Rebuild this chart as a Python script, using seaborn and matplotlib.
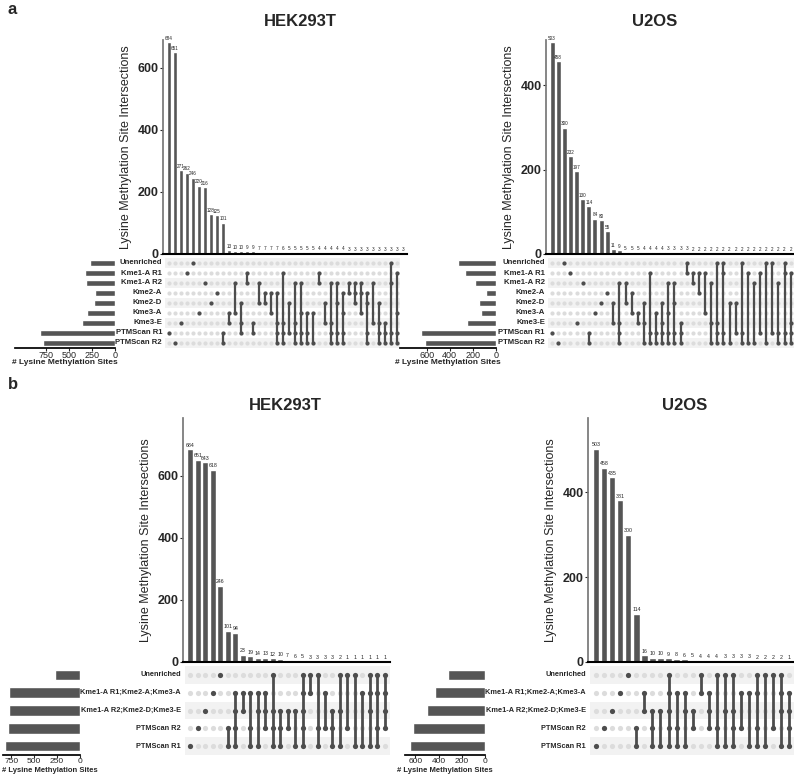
import numpy as np
import pandas as pd
import seaborn as sns
import matplotlib.pyplot as plt

sns.set_theme(style="white")
plt.rcParams['font.family'] = ['Liberation Sans', 'DejaVu Sans']

W, H = 794, 778
BAR = "#555555"
DOT_ON = "#4d4d4d"
DOT_OFF = "#dcdcdc"
STRIPE = "#f2f2f2"

# ---- panel a, HEK293T
a_sets = ["Unenriched", "Kme1-A R1", "Kme1-A R2", "Kme2-A", "Kme2-D",
          "Kme3-A", "Kme3-E", "PTMScan R1", "PTMScan R2"]
a_hek_sizes = [275, 325, 315, 215, 225, 305, 360, 820, 790]
a_hek_counts = [684, 651, 271, 262, 246, 220, 216, 128, 125, 101,
                13, 10, 10, 9, 9, 7, 7, 7, 7, 6,
                5, 5, 5, 5, 5, 4, 4, 4, 4, 4,
                3, 3, 3, 3, 3, 3, 3, 3, 3, 3]
# each entry lists the member set rows (0 = top row)
a_hek_members = ["7", "8", "6", "1", "0", "5", "2", "4", "3", "78",
                 "56", "25", "467", "12", "67", "24", "34", "35", "3678", "1678",
                 "47", "2678", "2578", "578", "58", "12", "46", "2678", "2478", "3578",
                 "23", "234", "235", "3478", "26", "4678", "678", "0278", "1578", "0578"]

# ---- panel a, U2OS
a_u2_sizes = [330, 270, 183, 87, 148, 130, 252, 650, 618]
a_u2_counts = [503, 458, 300, 232, 197, 130, 114, 84, 80, 55,
               11, 9, 5, 5, 5, 4, 4, 4, 4, 3,
               3, 3, 3, 2, 2, 2, 2, 2, 2, 2,
               2, 2, 2, 2, 2, 2, 2, 2, 2, 2]
a_u2_members = ["7", "8", "0", "1", "6", "2", "78", "5", "4", "3",
                "46", "2678", "24", "35", "56", "468", "178", "578", "4678", "2578",
                "2478", "678", "01", "12", "13", "15", "268", "0678", "0178", "48",
                "47", "078", "18", "28", "17", "08", "07", "278", "0178", "1678"]

# ---- panel b
b_sets = ["Unenriched", "Kme1-A R1;Kme2-A;Kme3-A", "Kme1-A R2;Kme2-D;Kme3-E",
          "PTMScan R2", "PTMScan R1"]
b_hek_sizes = [272, 775, 775, 790, 820]
b_hek_counts = [684, 651, 643, 618, 246, 101, 94, 23, 19, 14,
                13, 12, 10, 7, 6, 5, 3, 3, 3, 3,
                2, 1, 1, 1, 1, 1, 1]
b_hek_members = ["4", "3", "2", "1", "0", "34", "1234", "12", "134", "124",
                 "123", "0234", "234", "23", "24", "01234", "01", "034", "13", "234",
                 "024", "03", "04", "14", "0124", "0134", "0123"]

b_u2_sizes = [322, 435, 496, 618, 650]
b_u2_counts = [503, 458, 435, 381, 300, 114, 16, 10, 10, 9,
               8, 6, 5, 4, 4, 4, 3, 3, 3, 3,
               2, 2, 2, 2, 1]
b_u2_members = ["4", "3", "2", "1", "0", "34", "12", "234", "24", "01234",
                "134", "124", "23", "01", "123", "034", "024", "0234", "13", "14",
                "0134", "04", "03", "0124", "1234"]


def rect(x0, x1, y0, y1):
    return [x0 / W, 1 - y1 / H, (x1 - x0) / W, (y1 - y0) / H]


def upset(fig, sets, sizes, counts, members, title, bx, by, my, sx, lab_x,
          yticks, ylim, sticks, slim, dot_s, lab_fs, val_fs, title_xy,
          size_fs, lw, xlab_pos):
    n = len(counts)
    k = len(sets)
    # intersection bars
    ax = fig.add_axes(rect(bx[0], bx[1], by[0], by[1]))
    df = pd.DataFrame({"col": np.arange(n), "count": counts})
    sns.barplot(data=df, x="col", y="count", color=BAR, saturation=1,
                width=0.8, ax=ax)
    for i, c in enumerate(counts):
        ax.text(i, c + ylim * 0.006, str(c), ha="center", va="bottom",
                fontsize=val_fs, color="#222222")
    ax.set_xlim(-1, n - 0.3)
    ax.set_ylim(0, ylim)
    ax.set_yticks(yticks)
    ax.set_yticklabels([str(t) for t in yticks], fontsize=9, fontweight="bold")
    ax.set_xticks([])
    ax.set_xlabel("")
    ax.set_ylabel("Lysine Methylation Site Intersections", fontsize=9)
    for s in ["top", "right"]:
        ax.spines[s].set_visible(False)
    ax.spines["left"].set_color("#777777")
    ax.spines["bottom"].set_color("black")
    ax.spines["bottom"].set_linewidth(1.5)
    ax.tick_params(axis="y", length=2, width=0.8, pad=1, left=True)
    fig.text(title_xy[0] / W, 1 - title_xy[1] / H, title, ha="center",
             va="center", fontsize=12, fontweight="bold")

    # matrix
    mx = fig.add_axes(rect(bx[0], bx[1], my[0], my[1]))
    mx.set_xlim(-1, n - 0.3)
    mx.set_ylim(k - 0.5, -0.5)
    for r in range(k):
        if r % 2 == 0:
            mx.axhspan(r - 0.5, r + 0.5, xmin=0.3 / (n + 0.7),
                       color=STRIPE, lw=0)
    gx, gy = np.meshgrid(np.arange(n), np.arange(k))
    mx.scatter(gx.ravel(), gy.ravel(), s=dot_s, color=DOT_OFF, lw=0)
    for i, m in enumerate(members):
        rows = sorted(int(ch) for ch in m)
        if len(rows) > 1:
            mx.plot([i, i], [rows[0], rows[-1]], color=DOT_ON, lw=lw,
                    solid_capstyle="butt")
        mx.scatter([i] * len(rows), rows, s=dot_s, color=DOT_ON, lw=0,
                   zorder=3)
    mx.axis("off")
    for r, name in enumerate(sets):
        fig.text(lab_x / W, 1 - (my[0] + (r + 0.5) * (my[1] - my[0]) / k) / H,
                 name, ha="right", va="center", fontsize=lab_fs,
                 fontweight="bold")

    # set sizes
    sx_ax = fig.add_axes(rect(sx[0], sx[1], my[0], my[1]))
    sdf = pd.DataFrame({"set": sets, "size": sizes})
    sns.barplot(data=sdf, y="set", x="size", order=sets, orient="h",
                color=BAR, saturation=1, width=0.6, ax=sx_ax)
    sx_ax.set_ylim(k - 0.5, -0.5)
    sx_ax.set_xlim(slim, 0)
    sx_ax.set_xticks(sticks)
    sx_ax.set_xticklabels([str(t) for t in sticks], fontsize=size_fs)
    sx_ax.set_yticks([])
    sx_ax.set_ylabel("")
    sx_ax.set_xlabel("")
    fig.text(xlab_pos[0] / W, 1 - xlab_pos[1] / H, "# Lysine Methylation Sites",
             ha=xlab_pos[2], va="center", fontsize=size_fs - 0.5,
             fontweight="bold")
    for s in ["top", "right", "left"]:
        sx_ax.spines[s].set_visible(False)
    sx_ax.spines["bottom"].set_color("black")
    sx_ax.tick_params(axis="x", length=2, width=0.8, pad=0.5, bottom=True)


fig = plt.figure(figsize=(W / 100, H / 100), dpi=100)

upset(fig, a_sets, a_hek_sizes, a_hek_counts, a_hek_members, "HEK293T",
      bx=(163, 407), by=(40, 254), my=(258, 348), sx=(15, 115), lab_x=162,
      yticks=[0, 200, 400, 600], ylim=690, sticks=[750, 500, 250, 0],
      slim=1090, dot_s=9, lab_fs=5.6, val_fs=3.3, title_xy=(300, 22),
      size_fs=6.5, lw=1.6, xlab_pos=(65, 363, "center"))

upset(fig, a_sets, a_u2_sizes, a_u2_counts, a_u2_members, "U2OS",
      bx=(546, 795), by=(40, 254), my=(258, 348), sx=(400, 496), lab_x=545,
      yticks=[0, 200, 400], ylim=508, sticks=[600, 400, 200, 0],
      slim=830, dot_s=9, lab_fs=5.6, val_fs=3.3, title_xy=(655, 22),
      size_fs=6.5, lw=1.6, xlab_pos=(448, 363, "center"))

upset(fig, b_sets, b_hek_sizes, b_hek_counts, b_hek_members, "HEK293T",
      bx=(183, 390), by=(418, 662), my=(666, 755), sx=(3, 80), lab_x=181,
      yticks=[0, 200, 400, 600], ylim=785, sticks=[750, 500, 250, 0],
      slim=840, dot_s=14, lab_fs=5.3, val_fs=3.8, title_xy=(285, 405),
      size_fs=6, lw=2, xlab_pos=(2, 770, "left"))

upset(fig, b_sets, b_u2_sizes, b_u2_counts, b_u2_members, "U2OS",
      bx=(588, 795), by=(418, 662), my=(666, 755), sx=(405, 485), lab_x=586,
      yticks=[0, 200, 400], ylim=575, sticks=[600, 400, 200, 0],
      slim=690, dot_s=14, lab_fs=5.3, val_fs=3.8, title_xy=(685, 405),
      size_fs=6, lw=2, xlab_pos=(445, 770, "center"))

fig.text(8 / W, 1 - 10 / H, "a", fontsize=12, fontweight="bold", va="center")
fig.text(8 / W, 1 - 385 / H, "b", fontsize=12, fontweight="bold", va="center")

fig.savefig("out.png", dpi=100)
